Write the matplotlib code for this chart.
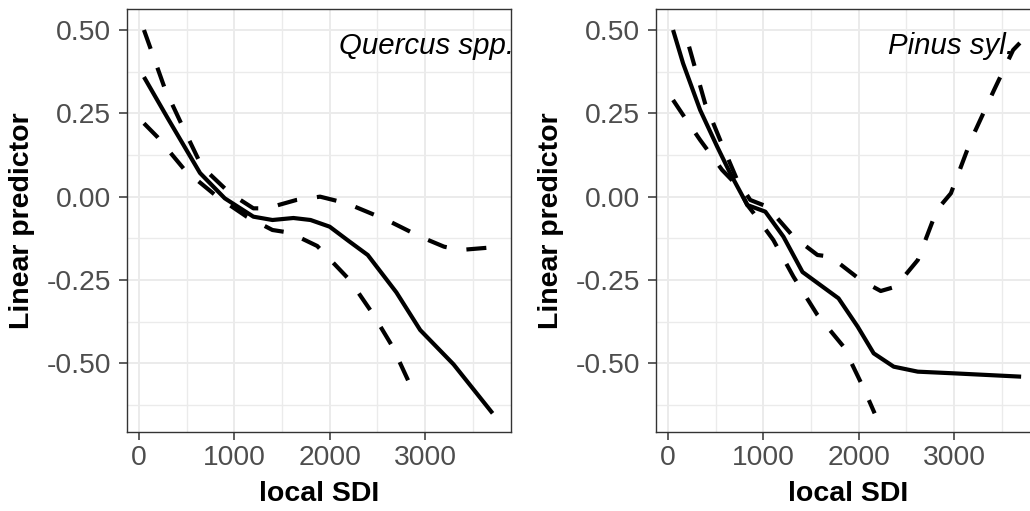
import matplotlib
matplotlib.use("Agg")
import matplotlib.pyplot as plt
from matplotlib.ticker import MultipleLocator

plt.rcParams["font.family"] = ["Liberation Sans", "DejaVu Sans"]

# Quercus spp. panel (fit and confidence band)
q_fit_x = [52, 300, 640, 900, 1200, 1400, 1620, 1800, 2000, 2200, 2400, 2700, 2950, 3300, 3710]
q_fit_y = [0.359, 0.236, 0.071, -0.005, -0.06, -0.07, -0.064, -0.07, -0.09, -0.133, -0.175, -0.287, -0.40, -0.503, -0.65]
q_up_x = [52, 270, 450, 660, 955, 1200, 1340, 1650, 1900, 2180, 2600, 2950, 3200, 3370, 3710]
q_up_y = [0.50, 0.325, 0.215, 0.09, 0.01, -0.035, -0.035, -0.01, 0.0, -0.02, -0.07, -0.12, -0.15, -0.16, -0.152]
q_lo_x = [52, 190, 480, 820, 1130, 1400, 1580, 1870, 2210, 2450, 2660, 2870, 2920]
q_lo_y = [0.22, 0.18, 0.08, 0.0, -0.06, -0.10, -0.108, -0.148, -0.25, -0.35, -0.45, -0.58, -0.60]

# Pinus syl. panel
p_fit_x = [53, 158, 337, 516, 653, 832, 1021, 1211, 1411, 1789, 1990, 2158, 2368, 2621, 3000, 3705]
p_fit_y = [0.50, 0.40, 0.26, 0.15, 0.07, -0.025, -0.045, -0.12, -0.226, -0.305, -0.39, -0.47, -0.51, -0.525, -0.53, -0.54]
p_up_x = [221, 389, 547, 726, 863, 1042, 1316, 1568, 1705, 2021, 2232, 2389, 2621, 2821, 2968, 3179, 3421, 3621, 3705]
p_up_y = [0.45, 0.28, 0.17, 0.05, -0.01, -0.03, -0.12, -0.175, -0.18, -0.25, -0.283, -0.27, -0.19, -0.04, 0.01, 0.17, 0.32, 0.44, 0.465]
p_lo_x = [53, 158, 337, 568, 737, 832, 900, 1105, 1316, 1568, 1842, 2053, 2168]
p_lo_y = [0.29, 0.245, 0.17, 0.08, 0.03, -0.025, -0.05, -0.13, -0.24, -0.355, -0.45, -0.575, -0.65]

panels = [
    ("Quercus spp.", q_fit_x, q_fit_y, q_up_x, q_up_y, q_lo_x, q_lo_y, 3930),
    ("Pinus syl.", p_fit_x, p_fit_y, p_up_x, p_up_y, p_lo_x, p_lo_y, 3630),
]

fig = plt.figure(figsize=(10.3, 5.11), dpi=100)
lefts = [127 / 1030, 656 / 1030]
bottom = 1 - 432 / 511
height = 423 / 511
width = 384 / 1030

for left, (label, fx, fy, ux, uy, lx, ly, tx) in zip(lefts, panels):
    ax = fig.add_axes([left, bottom, width, height])
    ax.set_xlim(-126, 3903)
    ax.set_ylim(-0.706, 0.563)

    ax.xaxis.set_major_locator(MultipleLocator(1000))
    ax.xaxis.set_minor_locator(MultipleLocator(500))
    ax.yaxis.set_major_locator(MultipleLocator(0.25))
    ax.yaxis.set_minor_locator(MultipleLocator(0.125))
    ax.grid(which="major", color="#EBEBEB", lw=1.4)
    ax.grid(which="minor", color="#EBEBEB", lw=1.0)
    ax.set_axisbelow(True)
    ax.yaxis.set_major_formatter(plt.FuncFormatter(lambda v, p: f"{v:.2f}"))

    ax.plot(fx, fy, color="black", lw=3.0, solid_capstyle="butt", solid_joinstyle="round")
    ax.plot(ux, uy, color="black", lw=3.0, dashes=(4.8, 4.8))
    ax.plot(lx, ly, color="black", lw=3.0, dashes=(4.8, 4.8))

    ax.text(tx, 0.452, label, style="italic", fontsize=21.2, ha="right", va="center",
            clip_on=True)

    for s in ax.spines.values():
        s.set_color("#333333")
        s.set_linewidth(1.0)
    ax.tick_params(which="minor", length=0)
    ax.tick_params(which="major", length=5.5, width=1.1, color="#333333",
                   labelcolor="#4D4D4D", labelsize=20.3)
    ax.tick_params(axis="y", pad=6)
    ax.tick_params(axis="x", pad=4)

    ax.set_xlabel("local SDI", fontsize=20.5, fontweight="bold", labelpad=7)
    ax.set_ylabel("Linear predictor", fontsize=20.5, fontweight="bold", labelpad=8)

fig.savefig("out.png", dpi=100)
